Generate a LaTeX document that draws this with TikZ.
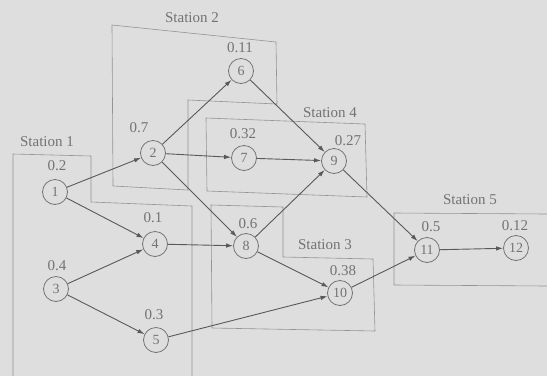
\documentclass[tikz,border=0pt]{standalone}
\usepackage{fontspec}
\setmainfont{Liberation Serif}
\usetikzlibrary{arrows.meta}
\begin{document}
\begin{tikzpicture}[x=1pt,y=-1pt,
  nd/.style={circle,draw=black!55,line width=0.8pt,minimum size=25pt,inner sep=0pt,font=\fontsize{14}{16}\selectfont,text=black!55},
  lbl/.style={font=\fontsize{15}{17}\selectfont,text=black!55,inner sep=0pt},
  box/.style={draw=black!42,line width=0.6pt},
  arr/.style={draw=black!65,line width=0.9pt,-{Latex[length=7pt,width=4.5pt]}}]
\fill[black!13] (0,0) rectangle (547,376);
\useasboundingbox (0,0) rectangle (547,376);

% station boxes
\draw[box] (13,376) -- (13,154) -- (91,156) -- (91,202) -- (192,206) -- (192,376);
\draw[box] (113,186) -- (112,25) -- (276,42) -- (277,104) -- (188,100) -- (188,190) -- cycle;
\draw[box] (206,118) -- (365,124) -- (367,197) -- (207,191) -- cycle;
\draw[box] (211,205) -- (283,207) -- (283,257) -- (373,259) -- (375,331) -- (212,328) -- cycle;
\draw[box] (547,214) -- (394,213) -- (394,285) -- (547,286);

% station labels
\node[lbl] (s1) at (47,142) {Station 1};
\node[lbl] (s2) at (192,18) {Station 2};
\node[lbl] (s4) at (330,113) {Station 4};
\node[lbl] (s3) at (325,245) {Station 3};
\node[lbl] (s5) at (470,200) {Station 5};

% nodes
\node[nd] (n1) at (55,192) {1};
\node[nd] (n2) at (153,153) {2};
\node[nd] (n3) at (56,289) {3};
\node[nd] (n4) at (155,244) {4};
\node[nd] (n5) at (156,340) {5};
\node[nd] (n6) at (241,71) {6};
\node[nd] (n7) at (244,158) {7};
\node[nd] (n8) at (246,246) {8};
\node[nd] (n9) at (334,161) {9};
\node[nd] (n10) at (340,293) {10};
\node[nd] (n11) at (427,250) {11};
\node[nd] (n12) at (516,248) {12};

% time labels
\node[lbl] (t1) at (57,166) {0.2};
\node[lbl] (t2) at (139,128) {0.7};
\node[lbl] (t3) at (57,266) {0.4};
\node[lbl] (t4) at (153,218) {0.1};
\node[lbl] (t5) at (154,315) {0.3};
\node[lbl] (t6) at (240,48) {0.11};
\node[lbl] (t7) at (243,134) {0.32};
\node[lbl] (t8) at (248,224) {0.6};
\node[lbl] (t9) at (348,141) {0.27};
\node[lbl] (t10) at (343,271) {0.38};
\node[lbl] (t11) at (431,227) {0.5};
\node[lbl] (t12) at (515,226) {0.12};

% precedence arrows
\draw[arr] (n1) -- (n2);
\draw[arr] (n1) -- (n4);
\draw[arr] (n3) -- (n4);
\draw[arr] (n3) -- (n5);
\draw[arr] (n2) -- (n6);
\draw[arr] (n2) -- (n7);
\draw[arr] (n2) -- (n8);
\draw[arr] (n4) -- (n8);
\draw[arr] (n6) -- (n9);
\draw[arr] (n7) -- (n9);
\draw[arr] (n8) -- (n9);
\draw[arr] (n8) -- (n10);
\draw[arr] (n5) -- (n10);
\draw[arr] (n9) -- (n11);
\draw[arr] (n10) -- (n11);
\draw[arr] (n11) -- (n12);
\end{tikzpicture}
\end{document}
